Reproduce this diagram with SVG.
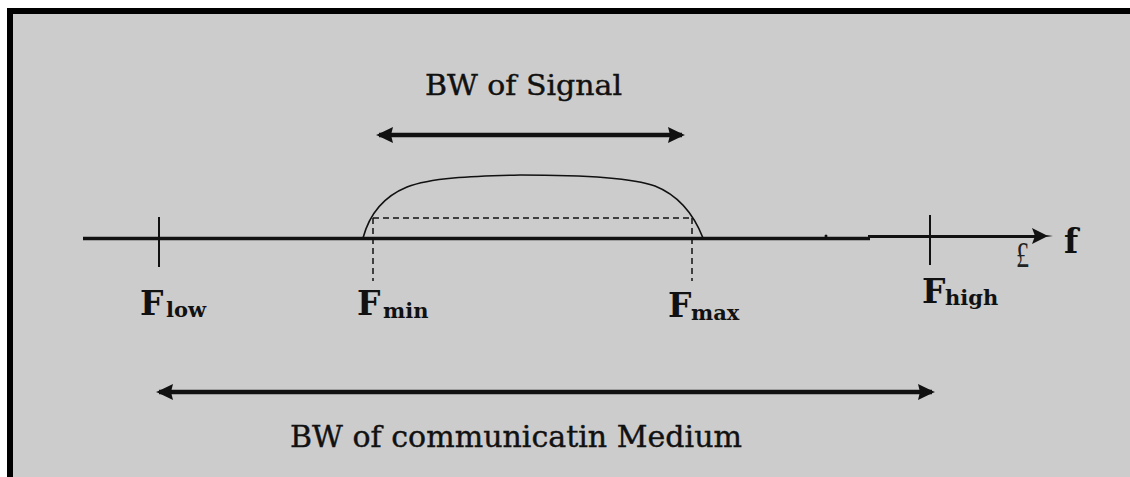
<svg xmlns="http://www.w3.org/2000/svg" width="1130" height="477" viewBox="0 0 1130 477">
  <style>
    .lbl { font-family: "DejaVu Serif", "Liberation Serif", serif; fill: #111; stroke: #111; stroke-width: 0.4; }
    .F { font-family: "DejaVu Serif", "Liberation Serif", serif; font-weight: bold; font-size: 33px; fill: #111; }
    .sub { font-family: "DejaVu Serif", "Liberation Serif", serif; font-weight: bold; font-size: 21px; fill: #111; }
    .tick { stroke: #111; stroke-width: 2; }
    .dash { stroke: #111; stroke-width: 1.5; stroke-dasharray: 6 4; fill: none; }
    .arr { stroke: #111; stroke-width: 4.5; fill: none; }
  </style>
  <defs>
    <marker id="head" viewBox="-17 -9 20 18" refX="0" refY="0" markerWidth="20" markerHeight="18" markerUnits="userSpaceOnUse" orient="auto-start-reverse">
      <path d="M3,0 L0,-1.2 L-14,-8 L-12,0 L-14,8 L0,1.2 Z" fill="#111"/>
    </marker>
  </defs>

  <g id="frame">
    <rect x="0" y="0" width="1130" height="477" fill="#ffffff"/>
    <rect x="10" y="11" width="1130" height="480" fill="#cccccc" stroke="#000" stroke-width="6"/>
  </g>

  <g id="axis">
    <line x1="83" y1="238.5" x2="870" y2="238.5" stroke="#111" stroke-width="3.5"/>
    <line x1="868" y1="236.5" x2="1040" y2="236.5" stroke="#111" stroke-width="2.8"/>
    <circle cx="826" cy="236" r="1.5" fill="#111"/>
    <path d="M1053,236 L1046,235 L1032,228 L1035,236 L1032,244 L1046,237 Z" fill="#111"/>
  </g>

  <g id="spectrum">
    <path d="M363,238 C370,212 385,196 407,187 C430,178 470,176 520,175 C580,175 630,177 655,186 C680,196 694,215 703,238" fill="none" stroke="#111" stroke-width="1.6"/>
    <line class="dash" x1="373" y1="218" x2="692" y2="218"/>
  </g>

  <g id="node-flow">
    <line class="tick" x1="159" y1="217" x2="159" y2="267"/>
    <text class="F" x="140" y="315">F</text>
    <text class="sub" x="166" y="317">low</text>
  </g>

  <g id="node-fmin">
    <line class="dash" x1="373" y1="218" x2="373" y2="281"/>
    <text class="F" x="357" y="315">F</text>
    <text class="sub" x="383" y="318">min</text>
  </g>

  <g id="node-fmax">
    <line class="dash" x1="692" y1="218" x2="692" y2="281"/>
    <text class="F" x="668" y="317">F</text>
    <text class="sub" x="691" y="320">max</text>
  </g>

  <g id="node-fhigh">
    <line class="tick" x1="930" y1="215" x2="930" y2="265"/>
    <text class="F" x="922" y="303">F</text>
    <text class="sub" x="945" y="305">high</text>
  </g>

  <g id="node-f">
    <text x="1016" y="267" font-family="'Liberation Serif', serif" font-size="36" textLength="13" lengthAdjust="spacingAndGlyphs" fill="#222">£</text>
    <text class="F" x="1064" y="253">f</text>
  </g>

  <g id="connectors">
    <line class="arr" x1="379" y1="135" x2="682" y2="135" marker-start="url(#head)" marker-end="url(#head)"/>
    <line class="arr" x1="159" y1="392" x2="932" y2="392" marker-start="url(#head)" marker-end="url(#head)"/>
  </g>

  <g id="titles">
    <text class="lbl" x="425" y="95" font-size="28" textLength="197" lengthAdjust="spacingAndGlyphs">BW of Signal</text>
    <text class="lbl" x="290" y="447" font-size="30" textLength="452" lengthAdjust="spacingAndGlyphs">BW of communicatin Medium</text>
  </g>
</svg>
